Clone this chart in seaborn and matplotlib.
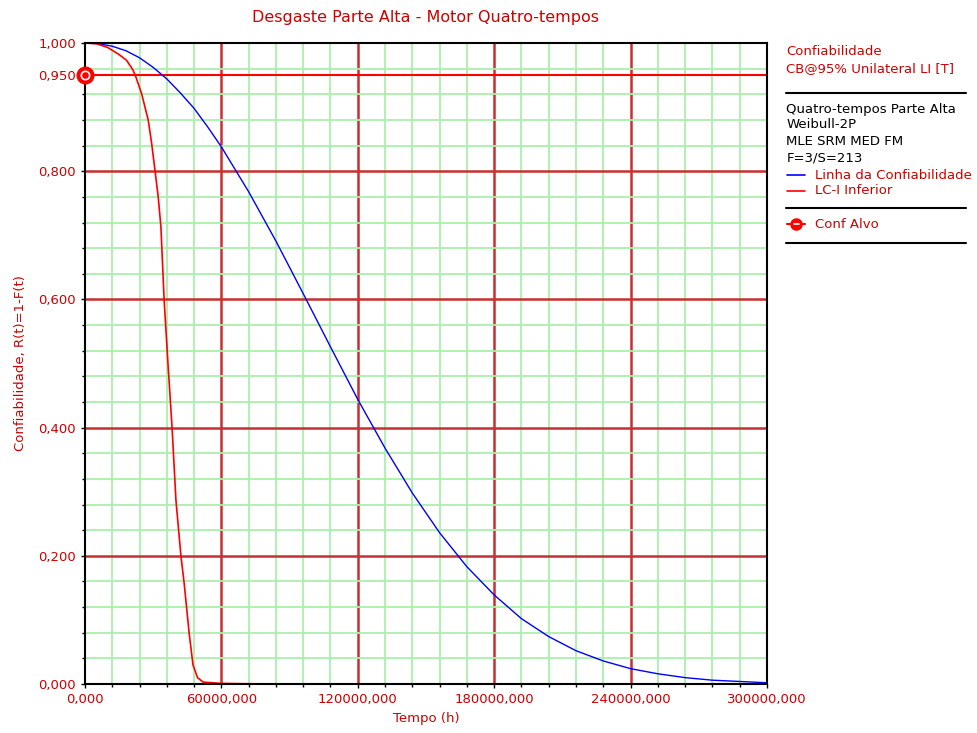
import numpy as np
import pandas as pd
import seaborn as sns
import matplotlib.pyplot as plt
from matplotlib.lines import Line2D
from matplotlib.ticker import MultipleLocator, FixedLocator, FuncFormatter

# Linha da Confiabilidade
tempo_conf = [0, 6000, 12000, 18000, 24000, 30000, 36000, 42000, 48000, 54000, 60000,
              72000, 84000, 96000, 108000, 120000, 132000, 144000, 156000, 168000,
              180000, 192000, 204000, 216000, 228000, 240000, 252000, 264000, 276000,
              288000, 300000]
r_conf = [1.0, 0.999, 0.995, 0.988, 0.977, 0.962, 0.944, 0.922, 0.898, 0.869, 0.838,
          0.768, 0.691, 0.609, 0.526, 0.444, 0.368, 0.298, 0.236, 0.183,
          0.139, 0.102, 0.074, 0.052, 0.036, 0.024, 0.016, 0.010, 0.006,
          0.004, 0.002]

# LC-I Inferior
tempo_inf = [0, 5000, 10000, 15000, 18300, 21100, 22400, 24900, 27800, 29300, 30800,
             32200, 33400, 34800, 36500, 38300, 40000, 42200, 43600, 45800, 47500,
             49500, 52000, 60000, 70000, 80000, 88000]
r_inf = [1.0, 0.999, 0.993, 0.982, 0.973, 0.958, 0.947, 0.921, 0.880, 0.844, 0.801,
         0.760, 0.713, 0.600, 0.500, 0.400, 0.287, 0.200, 0.158, 0.080, 0.030,
         0.010, 0.003, 0.001, 0.0005, 0.0003, 0.0002]

conf_alvo = 0.95

vermelho = "#cc0000"

sns.set_style("white")
plt.rcParams['font.family'] = ['DejaVu Sans']

fig = plt.figure(figsize=(9.77, 7.33), dpi=100)
ax = fig.add_axes([0.087, 0.0668, 0.698, 0.8745])

sns.lineplot(x=tempo_conf, y=r_conf, ax=ax, color="#0000ff", linewidth=1, zorder=5)
sns.lineplot(x=tempo_inf, y=r_inf, ax=ax, color="#ff0000", linewidth=1.2, zorder=5)

ax.axhline(conf_alvo, color="#ff0000", linewidth=1.5, zorder=4)
ax.plot([0], [conf_alvo], marker="o", markersize=12, color="#ff0000", clip_on=False, zorder=10)
ax.plot([0], [conf_alvo], marker="o", markersize=6, mfc="none", mec="white", mew=1.2,
        clip_on=False, zorder=11)

ax.set_xlim(0, 300000)
ax.set_ylim(0, 1)
ax.xaxis.set_major_locator(MultipleLocator(60000))
ax.xaxis.set_minor_locator(MultipleLocator(12000))
ax.yaxis.set_major_locator(FixedLocator([0, 0.2, 0.4, 0.6, 0.8, conf_alvo, 1.0]))
ax.yaxis.set_minor_locator(MultipleLocator(0.04))
fmt = FuncFormatter(lambda v, p: f"{v:.3f}".replace(".", ","))
ax.xaxis.set_major_formatter(fmt)
ax.yaxis.set_major_formatter(fmt)

ax.grid(which="minor", color="#aaf0aa", linewidth=1.3, zorder=0)
ax.grid(which="major", color="#c83030", linewidth=1.8, zorder=1)
ax.set_axisbelow(True)
ax.tick_params(which="both", colors="black", labelcolor=vermelho, labelsize=9.5,
               direction="out", length=3, width=1, left=True, bottom=True)
ax.tick_params(which="minor", length=2)
for s in ax.spines.values():
    s.set_color("black")
    s.set_linewidth(1.5)
    s.set_zorder(8)

ax.set_title("Desgaste Parte Alta - Motor Quatro-tempos", color=vermelho, fontsize=11.5, pad=15)
ax.set_xlabel("Tempo (h)", color=vermelho, fontsize=9.5, labelpad=4)
ax.set_ylabel("Confiabilidade, R(t)=1-F(t)", color=vermelho, fontsize=9.5, labelpad=8)

# painel de legenda a direita
tx = 0.805
fs = 9.5
fig.text(tx, 0.930, "Confiabilidade", color=vermelho, fontsize=fs, va="center")
fig.text(tx, 0.907, "CB@95% Unilateral LI [T]", color=vermelho, fontsize=fs, va="center")
for yy in [0.8735, 0.716, 0.668]:
    fig.add_artist(Line2D([0.805, 0.989], [yy, yy], color="black", linewidth=1.5))
fig.text(tx, 0.851, "Quatro-tempos Parte Alta", color="black", fontsize=fs, va="center")
fig.text(tx, 0.830, "Weibull-2P", color="black", fontsize=fs, va="center")
fig.text(tx, 0.807, "MLE SRM MED FM", color="black", fontsize=fs, va="center")
fig.text(tx, 0.784, "F=3/S=213", color="black", fontsize=fs, va="center")
fig.add_artist(Line2D([0.806, 0.824], [0.761, 0.761], color="#0000ff", linewidth=1.2))
fig.text(0.834, 0.761, "Linha da Confiabilidade", color=vermelho, fontsize=fs, va="center")
fig.add_artist(Line2D([0.806, 0.824], [0.740, 0.740], color="#ff0000", linewidth=1.2))
fig.text(0.834, 0.740, "LC-I Inferior", color=vermelho, fontsize=fs, va="center")
fig.add_artist(Line2D([0.806, 0.824], [0.694, 0.694], color="#ff0000", linewidth=1.5))
fig.add_artist(Line2D([0.815], [0.694], marker="o", markersize=8, color="#ff0000"))
fig.add_artist(Line2D([0.8125, 0.8175], [0.694, 0.694], color="white", linewidth=1.2))
fig.text(0.834, 0.694, "Conf Alvo", color=vermelho, fontsize=fs, va="center")

# sem grade vermelha sobre as bordas (depois de desenhar, para os ticks ja estarem no lugar)
fig.canvas.draw()
for t in ax.xaxis.get_major_ticks():
    if np.isclose(t.get_loc(), 0) or np.isclose(t.get_loc(), 300000):
        t.gridline.set_visible(False)
for t in ax.yaxis.get_major_ticks():
    if any(np.isclose(t.get_loc(), v) for v in (0, 1.0, conf_alvo)):
        t.gridline.set_visible(False)

fig.savefig("out.png", dpi=100)
